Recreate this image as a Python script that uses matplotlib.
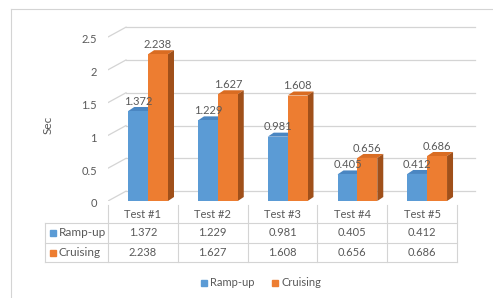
import matplotlib.pyplot as plt
from matplotlib.patches import Polygon
from matplotlib.lines import Line2D

plt.rcParams['font.family'] = ['Lato', 'DejaVu Sans']

categories = ["Test #1", "Test #2", "Test #3", "Test #4", "Test #5"]
series_names = ["Ramp-up", "Cruising"]
ramp_up = [1.372, 1.229, 0.981, 0.405, 0.412]
cruising = [2.238, 1.627, 1.608, 0.656, 0.686]
yticks = [0, 0.5, 1, 1.5, 2, 2.5]

TXT = "#595959"
GRID = "#d4d4d4"
FS = 8
front = ["#5b9bd5", "#ed7d31"]
top = ["#4a86c2", "#d96c22"]
side = ["#2f6aa3", "#a0501a"]

W, H = 493, 298
fig = plt.figure(figsize=(W / 100, H / 100), dpi=100)

# overlay in pixel coords for the frame and the data table
ov = fig.add_axes([0, 0, 1, 1])
ov.set_xlim(0, W)
ov.set_ylim(H, 0)
ov.axis("off")
ov.plot([11, 11], [298, 9], color=GRID, lw=0.8)
ov.plot([11, 493], [9, 9], color=GRID, lw=0.8)

# main axes: left px 108, width 372 px, bottom px 201, top px 15
ax = fig.add_axes([108 / W, (H - 201) / H, 372 / W, 186 / H])
ax.set_xlim(-0.5, -0.5 + 372 / 69.76)
ax.set_ylim(0, 186 / 65.6)
ax.axis("off")

# back wall depth offset (data units)
wdx, wdy = 0.258, 0.15
x_back0, x_back1 = -0.5 + wdx, 4.758
for v in yticks:
    ax.plot([x_back0, x_back1], [v + wdy, v + wdy], color=GRID, lw=0.9, zorder=0)
    ax.plot([-0.5, x_back0], [v, v + wdy], color=GRID, lw=0.9, zorder=0)
    ax.text(-0.5 - 0.16, v - 0.045, f"{v:g}", ha="right", va="center",
            fontsize=FS, color=TXT)

ax.text(-0.5 - 0.86, 1.16, "Sec", rotation=90, ha="center", va="center",
        fontsize=8.5, color=TXT)

# 3D bars
bw = 0.285
shift = 0.075
ddx, ddy = 0.086, 0.061
for s, vals in enumerate([ramp_up, cruising]):
    for i, v in enumerate(vals):
        x0 = i + shift - bw + s * bw
        x1 = x0 + bw
        z = 2 + s * 3
        ax.bar(x0, v, width=bw, align="edge", color=front[s], zorder=z + 1)
        ax.add_patch(Polygon([(x0, v), (x1, v), (x1 + ddx, v + ddy), (x0 + ddx, v + ddy)],
                             closed=True, facecolor=top[s], edgecolor="none", zorder=z))
        ax.add_patch(Polygon([(x1, 0), (x1, v), (x1 + ddx, v + ddy), (x1 + ddx, ddy)],
                             closed=True, facecolor=side[s], edgecolor="none", zorder=z))
        ax.text((x0 + x1) / 2, v + 0.15, f"{v:.3f}", ha="center", va="center",
                fontsize=FS, color=TXT, zorder=10)

# data table (pixel layout)
col_left = 108
col_w = 69.8
lab_left = 45
row_lines = [223, 243, 262]
header_y = 215
row_y = [233, 252.5]
ncol = len(categories)
right = col_left + ncol * col_w
for k in range(ncol + 1):
    xk = col_left + k * col_w
    ov.plot([xk, xk], [205, 262], color=GRID, lw=0.8)
for yl in row_lines:
    ov.plot([lab_left, right], [yl, yl], color=GRID, lw=0.8)
ov.plot([lab_left, lab_left], [223, 262], color=GRID, lw=0.8)
for k, cat in enumerate(categories):
    xc = col_left + (k + 0.5) * col_w
    ov.text(xc, header_y, cat, ha="center", va="center", fontsize=FS, color=TXT)
    for s, vals in enumerate([ramp_up, cruising]):
        ov.text(xc, row_y[s], f"{vals[k]:.3f}", ha="center", va="center",
                fontsize=FS, color=TXT)
for s, name in enumerate(series_names):
    ov.plot([53], [row_y[s]], marker="s", ms=4, color=front[s], ls="none")
    ov.text(58.5, row_y[s], name, ha="left", va="center", fontsize=8.5, color=TXT)

handles = [Line2D([], [], marker="s", ls="none", ms=4.5, color=front[s]) for s in range(2)]
fig.legend(handles, series_names, loc="center", bbox_to_anchor=(0.527, 1 - 283 / H),
           ncol=2, frameon=False, fontsize=8, labelcolor=TXT, handletextpad=0.1,
           columnspacing=1.3, handlelength=1.0)

fig.savefig("out.png", dpi=100)
